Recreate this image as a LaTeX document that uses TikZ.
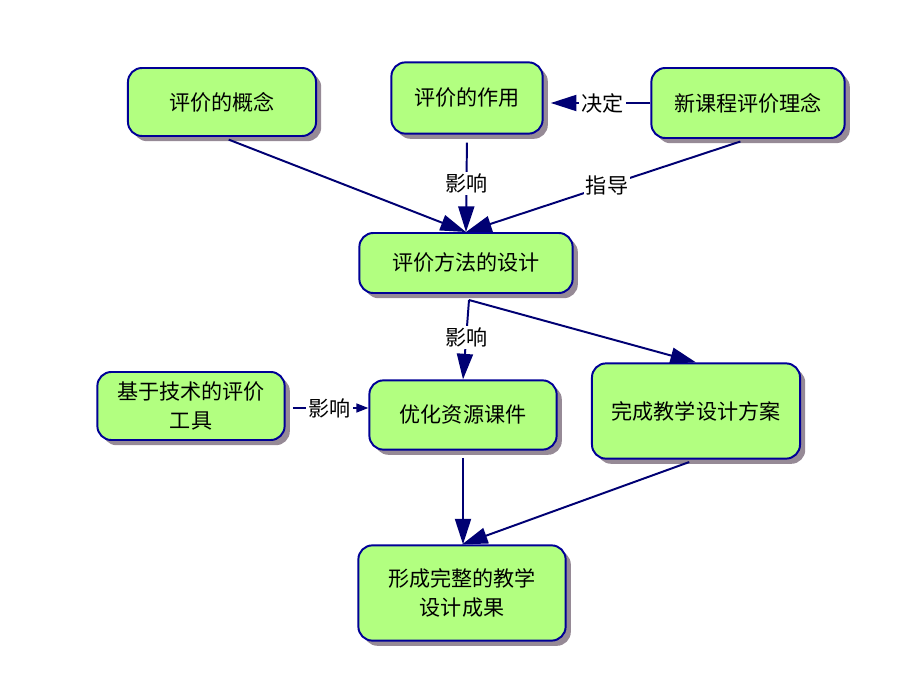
\documentclass[tikz,border=0pt]{standalone}
\usepackage{fontspec}
\newfontfamily\cjk{Noto Sans CJK SC}
\usepackage{tikz}
\usetikzlibrary{arrows.meta}
\usetikzlibrary{shadows}
\definecolor{boxgreen}{RGB}{178,255,128}
\definecolor{boxline}{RGB}{0,0,150}
\definecolor{linknavy}{RGB}{0,0,115}
\definecolor{shadowgray}{RGB}{150,138,150}

\begin{document}
\begin{tikzpicture}[x=0.025cm, y=-0.025cm, line width=1.4pt,
    font=\cjk\fontsize{15pt}{20.6pt}\selectfont,
    box/.style={draw=boxline, fill=boxgreen, rounded corners=0.35cm, align=center,
                drop shadow={shadow xshift=0.13cm, shadow yshift=-0.13cm,
                             fill=shadowgray, opacity=1}},
    link/.style={draw=linknavy, -{Triangle[length=0.64cm, width=0.4cm]}},
    shortlink/.style={draw=linknavy, -{Triangle[length=0.3cm, width=0.22cm]}},
    tag/.style={fill=white, inner sep=1.5pt}]
    % frame of the page
    \useasboundingbox (0,0) rectangle (920,690);

    % draw boxes
    \node[box, minimum width=4.7cm,  minimum height=1.7cm]   (concept) at (222,102) {评价的概念};
    \node[box, minimum width=3.78cm, minimum height=1.78cm]  (role)    at (467,98)  {评价的作用};
    \node[box, minimum width=4.83cm, minimum height=1.75cm]  (idea)    at (748,103) {新课程评价理念};
    \node[box, minimum width=5.33cm, minimum height=1.5cm]   (method)  at (466,263) {评价方法的设计};
    \node[box, minimum width=4.68cm, minimum height=1.7cm]   (tool)    at (191,406) {基于技术的评价\\工具};
    \node[box, minimum width=4.68cm, minimum height=1.73cm]  (res)     at (463,415) {优化资源课件};
    \node[box, minimum width=5.2cm,  minimum height=2.38cm]  (plan)    at (696,411) {完成教学设计方案};
    \node[box, minimum width=5.18cm, minimum height=2.38cm]  (result)  at (462,593) {形成完整的教学\\设计成果};

    % split point under the method box
    \coordinate (fork) at (469,300);

    % draw links
    \draw[link, shorten <=0.18cm] (concept.south) -- (method.north);
    \draw[link, shorten <=0.2cm] (role.south) -- node[tag] {影响} (method.north);
    \draw[link, shorten <=0.2cm] (idea.south) -- node[tag] {指导} (method.north);
    \draw[link, shorten >=0.18cm] (idea.west |- 0,103) -- node[tag, pos=0.45] {决定} (role.east |- 0,103);
    \draw[link] (fork) -- node[tag, pos=0.47] {影响} (res.north);
    \draw[link] (fork) -- (plan.north);
    \draw[shortlink, shorten <=0.18cm] (tool.east |- 0,408) -- node[tag, pos=0.53] {影响} (res.west |- 0,408);
    \draw[link, shorten <=0.18cm] (res.south) -- (res.south |- result.north);
    \draw[link, shorten <=0.18cm] (plan.south) -- (result.north);
\end{tikzpicture}
\end{document}
